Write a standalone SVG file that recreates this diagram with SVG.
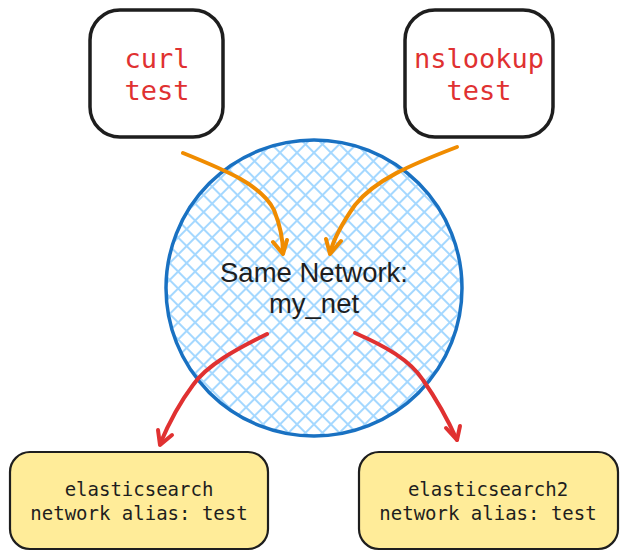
<svg xmlns="http://www.w3.org/2000/svg" width="628" height="560" viewBox="0 0 628 560">
<style>
.box{fill:#ffffff;stroke:#1e1e1e;stroke-width:3.5}
.ybox{fill:#ffec99;stroke:#1e1e1e;stroke-width:2.2}
.mono{font-family:"DejaVu Sans Mono","Liberation Mono",monospace;text-anchor:middle}
.red{fill:#e03131;font-size:27px}
.dark{fill:#1e1e1e;font-size:19px}
.sans{font-family:"Liberation Sans",Arial,sans-serif;font-size:27.5px;fill:#1e1e1e;text-anchor:middle}
.or{fill:none;stroke:#f08c00;stroke-width:4;stroke-linecap:round;stroke-linejoin:round}
.rd{fill:none;stroke:#e03131;stroke-width:4;stroke-linecap:round;stroke-linejoin:round}
</style>
<defs>
<pattern id="hatch" width="12" height="12" patternUnits="userSpaceOnUse" patternTransform="rotate(45)">
<path d="M0 6H12M6 0V12" stroke="#a5d8ff" stroke-width="2"/>
</pattern>
</defs>
<g id="network">
<circle cx="314" cy="288" r="148" fill="#ffffff"/>
<circle cx="314" cy="288" r="148" fill="url(#hatch)" stroke="#1971c2" stroke-width="3.5"/>
<text class="sans" x="314" y="282">Same Network:</text>
<text class="sans" x="314" y="313">my_net</text>
</g>
<g id="curl">
<rect class="box" x="90" y="10" width="133" height="127" rx="30"/>
<text class="mono red" x="157" y="68">curl</text>
<text class="mono red" x="157" y="100">test</text>
</g>
<g id="nslookup">
<rect class="box" x="405" y="10" width="148" height="127" rx="30"/>
<text class="mono red" x="479" y="68">nslookup</text>
<text class="mono red" x="479" y="100">test</text>
</g>
<g id="es1">
<rect class="ybox" x="10" y="452" width="258" height="97" rx="20"/>
<text class="mono dark" x="139" y="496">elasticsearch</text>
<text class="mono dark" x="139" y="520">network alias: test</text>
</g>
<g id="es2">
<rect class="ybox" x="359" y="452" width="259" height="97" rx="20"/>
<text class="mono dark" x="488" y="496">elasticsearch2</text>
<text class="mono dark" x="488" y="520">network alias: test</text>
</g>
<g id="connectors">
<path class="or" d="M183 153 C225 170 262 185 274 210 C280 225 283 240 283 253"/>
<path class="or" d="M273 242 L283 254 L287 240"/>
<path class="or" stroke-width="5" d="M457 147 C410 165 375 180 355 205 C343 222 334 238 330 253"/>
<path class="or" d="M326 239 L330 254 L341 241"/>
<path class="rd" d="M267 334 C235 350 207 365 193 385 C178 405 168 425 160 444"/>
<path class="rd" d="M158 430 L160 445 L172 435"/>
<path class="rd" d="M355 333 C385 346 410 360 423 380 C437 400 448 420 457 440"/>
<path class="rd" d="M446 428 L457 440 L460 426"/>
</g>
</svg>
